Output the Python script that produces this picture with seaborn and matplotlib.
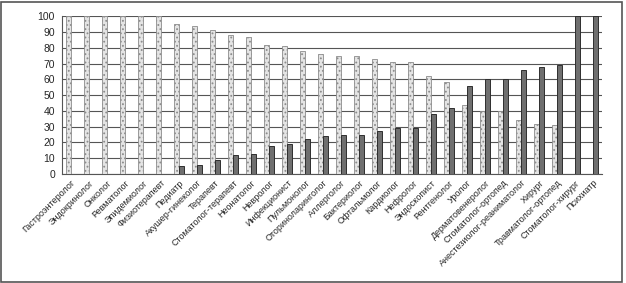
import matplotlib
matplotlib.use("Agg")
import matplotlib.pyplot as plt
import seaborn as sns
import pandas as pd
import numpy as np
from matplotlib.patches import Rectangle

categories = ["Гастроэнтеролог", "Эндокринолог", "Онколог", "Ревматолог", "Эпидемиолог",
              "Физиотерапевт", "Педиатр", "Акушер-гинеколог", "Терапевт", "Стоматолог-терапевт",
              "Неонатолог", "Невролог", "Инфекционист", "Пульмонолог", "Оториноларинголог",
              "Аллерголог", "Бактериолог", "Офтальмолог", "Кардиолог", "Нефролог",
              "Эндоскопист", "Рентгенолог", "Уролог", "Дерматовенеролог", "Стоматолог-ортопед",
              "Анестезиолог-реаниматолог", "Хирург", "Травматолог-ортопед", "Стоматолог-хирург",
              "Психиатр"]
series_a = [100, 100, 100, 100, 100, 100, 95, 94, 91, 88,
            87, 82, 81, 78, 76, 75, 75, 73, 71, 71,
            62, 58, 44, 40, 40, 34, 32, 31, 0, 0]
series_b = [0, 0, 0, 0, 0, 0, 5, 6, 9, 12,
            13, 18, 19, 22, 24, 25, 25, 27, 29, 29,
            38, 42, 56, 60, 60, 66, 68, 69, 100, 100]
series_names = ["A", "B"]
y_ticks = list(range(0, 101, 10))

df = pd.DataFrame({
    "cat": categories * 2,
    "val": series_a + series_b,
    "series": [series_names[0]] * len(categories) + [series_names[1]] * len(categories),
})

sns.set_style("white")
plt.rcParams['font.family'] = ['Liberation Sans', 'DejaVu Sans']
plt.rcParams['hatch.linewidth'] = 0.8

fig = plt.figure(figsize=(6.26, 2.83), dpi=100)
ax = fig.add_axes([0.099, 0.385, 0.863, 0.558])

for y in y_ticks:
    ax.axhline(y, color="#555555", lw=0.8, zorder=0)

sns.barplot(data=df, x="cat", y="val", hue="series", order=categories,
            palette={"A": "#e4e4e4", "B": "#6f6f6f"}, width=0.56, dodge=True,
            legend=False, ax=ax, zorder=3)

for i, cont in enumerate(ax.containers):
    for p in cont:
        if i == 0:
            p.set_hatch("....")
            p.set_edgecolor("#8c8c8c")
            p.set_linewidth(0.6)
        else:
            p.set_edgecolor("#2e2e2e")
            p.set_linewidth(0.7)

ax.set_xlim(-0.5, len(categories) - 0.5)
ax.set_ylim(0, 100)
ax.set_yticks(y_ticks)
ax.set_yticklabels([str(v) for v in y_ticks], fontsize=7.5)
ax.set_xlabel("")
ax.set_ylabel("")
ax.set_xticks(range(len(categories)))
ax.set_xticklabels(categories, rotation=45, ha="right", rotation_mode="anchor", fontsize=6.5)
ax.tick_params(axis="x", which="major", length=0, pad=3)
ax.set_xticks(np.arange(-0.5, len(categories)), minor=True)
ax.tick_params(axis="x", which="minor", length=4, color="#555555", width=0.8)
ax.tick_params(axis="y", length=3, color="#555555", width=0.8, pad=2)

for s in ["top", "right"]:
    ax.spines[s].set_visible(False)
for s in ["left", "bottom"]:
    ax.spines[s].set_color("#555555")
    ax.spines[s].set_linewidth(0.8)

fig.patches.append(Rectangle((0.002, 0.004), 0.992, 0.99, transform=fig.transFigure,
                             fill=False, edgecolor="#555555", lw=1.2))

fig.savefig("out.png", dpi=100, facecolor="white")
